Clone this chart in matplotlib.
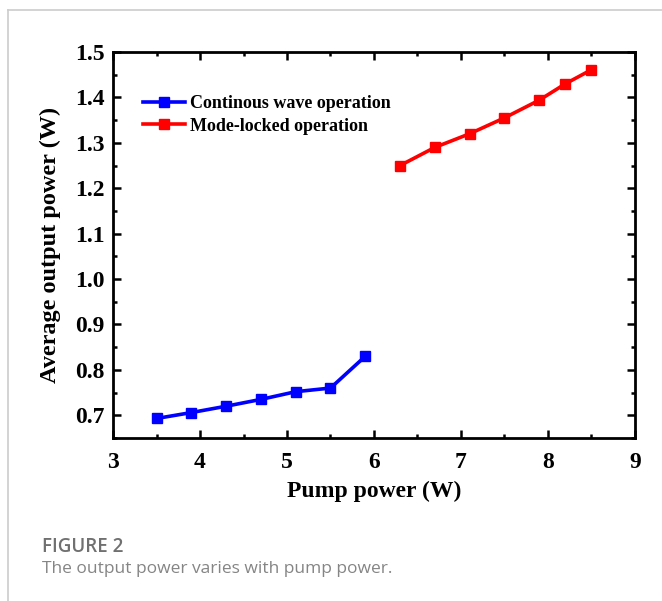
import matplotlib
matplotlib.use('Agg')
import matplotlib.pyplot as plt
from matplotlib.ticker import MultipleLocator
from matplotlib.lines import Line2D

# Данные с графика
cw_pump = [3.5, 3.9, 4.3, 4.7, 5.1, 5.5, 5.9]
cw_power = [0.693, 0.706, 0.720, 0.735, 0.752, 0.760, 0.830]
ml_pump = [6.3, 6.7, 7.1, 7.5, 7.9, 8.2, 8.5]
ml_power = [1.250, 1.290, 1.320, 1.355, 1.394, 1.430, 1.461]
labels = ['Continous wave operation', 'Mode-locked operation']

plt.rcParams['font.family'] = 'Liberation Serif'
plt.rcParams['font.weight'] = 'bold'

fig = plt.figure(figsize=(6.62, 6.01), dpi=100)
ax = fig.add_axes([0.1707, 0.2712, 0.7885, 0.6423])

ax.plot(cw_pump, cw_power, color='#0000ff', lw=2.6, marker='s', ms=6.5, label=labels[0])
ax.plot(ml_pump, ml_power, color='#ff0000', lw=2.6, marker='s', ms=6.5, label=labels[1])

ax.set_xlim(3, 9)
ax.set_ylim(0.65, 1.5)
ax.xaxis.set_major_locator(MultipleLocator(1))
ax.xaxis.set_minor_locator(MultipleLocator(0.5))
ax.yaxis.set_minor_locator(MultipleLocator(0.05))
ax.set_yticks([0.7, 0.8, 0.9, 1.0, 1.1, 1.2, 1.3, 1.4, 1.5])
ax.tick_params(which='both', direction='in', top=True, right=True, width=1.8)
ax.tick_params(which='major', length=6)
ax.tick_params(which='minor', length=3)
ax.tick_params(axis='x', labelsize=17, pad=10)
ax.tick_params(axis='y', labelsize=17, pad=6)
for s in ax.spines.values():
    s.set_linewidth(2)

ax.set_xlabel('Pump power (W)', fontsize=17, fontweight='bold')
ax.set_ylabel('Average output power (W)', fontsize=17.5, fontweight='bold')
ax.xaxis.set_label_coords(0.5, -0.11)
ax.yaxis.set_label_coords(-0.10, 0.5)

ax.legend(loc='upper left', bbox_to_anchor=(0.0575, 0.888), frameon=False,
          borderpad=0, borderaxespad=0, handlelength=2.3, handletextpad=0.3,
          labelspacing=0.3, prop={'size': 13, 'weight': 'bold'})

# Рамка и подпись как на странице статьи
fig.add_artist(Line2D([0.012, 1], [0.9834, 0.9834], transform=fig.transFigure, color='#cccccc', lw=1.2))
fig.add_artist(Line2D([0.012, 0.012], [0, 0.9834], transform=fig.transFigure, color='#cccccc', lw=1.2))
fig.text(0.0634, 0.0815, 'FIGURE 2', fontsize=13.5, family='Open Sans', fontweight='semibold',
         color='#707070', va='baseline')
fig.text(0.0634, 0.0466, 'The output power varies with pump power.', fontsize=12.5, family='Open Sans',
         fontweight='normal', color='#858585', va='baseline')

plt.savefig('out.png', dpi=100)
